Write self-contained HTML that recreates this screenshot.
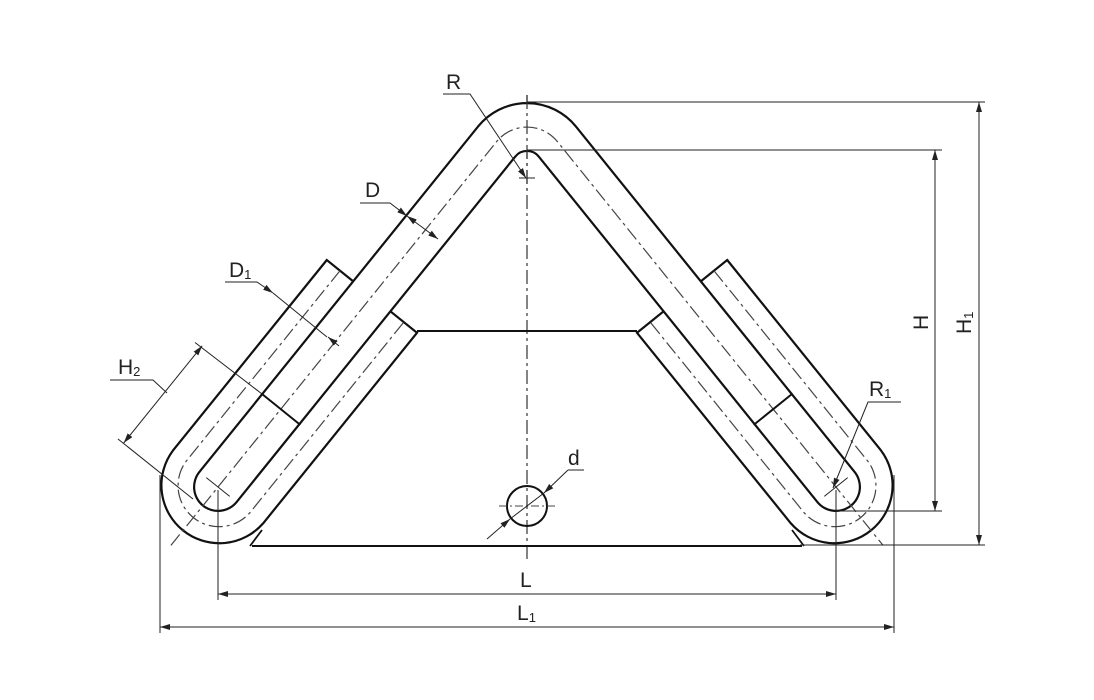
<!DOCTYPE html>
<html><head><meta charset="utf-8"><style>
html,body{margin:0;padding:0;background:#fff;}
svg{display:block;}
text{font-family:"Liberation Sans",sans-serif;fill:#222;}
</style></head><body>
<svg width="1094" height="700" viewBox="0 0 1094 700" xmlns="http://www.w3.org/2000/svg">
<defs>
<marker id="ar" viewBox="0 0 10 6" refX="10" refY="3" markerWidth="10" markerHeight="6" markerUnits="userSpaceOnUse" orient="auto-start-reverse">
<path d="M0,0 L10,3 L0,6 Z" fill="#222"/></marker>
</defs>

<!-- vertical axis -->
<line x1="527" y1="95" x2="527" y2="562" stroke="#333" stroke-width="1.2" stroke-dasharray="14 4 3 4"/>

<!-- left thimble group & mirrored -->
<g id="side">
  <path d="M326.8,260 L172.9,450.6 A58,58 0 0 0 263.1,523.4 L417,332.8 Z" fill="#fff" stroke="#111" stroke-width="2.2"/>
  <path d="M340,270.7 L186.1,461.3 A41,41 0 0 0 249.9,512.7 L403.8,322.1" fill="none" stroke="#444" stroke-width="1.2" stroke-dasharray="14 4 3 4"/>
  <line x1="250" y1="546" x2="262" y2="530" stroke="#111" stroke-width="1.8"/>
</g>
<g transform="translate(1054,0) scale(-1,1)">
  <path d="M326.8,260 L172.9,450.6 A58,58 0 0 0 263.1,523.4 L417,332.8 Z" fill="#fff" stroke="#111" stroke-width="2.2"/>
  <path d="M340,270.7 L186.1,461.3 A41,41 0 0 0 249.9,512.7 L403.8,322.1" fill="none" stroke="#444" stroke-width="1.2" stroke-dasharray="14 4 3 4"/>
  <line x1="250" y1="546" x2="262" y2="530" stroke="#111" stroke-width="1.8"/>
</g>

<!-- plate -->
<line x1="417" y1="331" x2="637" y2="331" stroke="#111" stroke-width="2"/>
<line x1="252" y1="546" x2="802" y2="546" stroke="#111" stroke-width="2"/>

<!-- main tube -->
<path d="M218,487 L496.7,141.5 A39,39 0 0 1 557.3,141.5 L836,487" fill="none" stroke="#111" stroke-width="50" stroke-linecap="round" stroke-linejoin="round"/>
<path d="M218,487 L496.7,141.5 A39,39 0 0 1 557.3,141.5 L836,487" fill="none" stroke="#fff" stroke-width="45.6" stroke-linecap="round" stroke-linejoin="round"/>
<path d="M170.9,545.4 L496.7,141.5 A39,39 0 0 1 557.3,141.5 L883.1,545.4" fill="none" stroke="#444" stroke-width="1.2" stroke-dasharray="14 4 3 4"/>
<!-- redraw axis over tube -->
<line x1="527" y1="95" x2="527" y2="190" stroke="#333" stroke-width="1.2" stroke-dasharray="14 4 3 4"/>

<!-- tube cross lines -->
<line x1="261.4" y1="393.5" x2="300.3" y2="424.9" stroke="#111" stroke-width="2"/>
<line x1="792.6" y1="393.5" x2="753.7" y2="424.9" stroke="#111" stroke-width="2"/>

<!-- crosshairs at ends -->
<line x1="206.3" y1="477.6" x2="229.7" y2="496.4" stroke="#222" stroke-width="1"/>
<line x1="847.7" y1="477.6" x2="824.3" y2="496.4" stroke="#222" stroke-width="1"/>
<line x1="519" y1="178" x2="535" y2="178" stroke="#222" stroke-width="1"/>

<!-- hole -->
<circle cx="527" cy="506" r="20" fill="none" stroke="#111" stroke-width="2"/>
<line x1="499" y1="506" x2="555" y2="506" stroke="#444" stroke-width="1" stroke-dasharray="8 3 2 3"/>
<line x1="487" y1="539" x2="510" y2="519" stroke="#222" stroke-width="1" marker-end="url(#ar)"/>
<line x1="568" y1="470" x2="544" y2="493" stroke="#222" stroke-width="1" marker-end="url(#ar)"/>
<line x1="510" y1="519" x2="544" y2="493" stroke="#222" stroke-width="1"/>
<line x1="568" y1="470" x2="584" y2="470" stroke="#222" stroke-width="1"/>
<text x="568" y="465" font-size="21">d</text>

<!-- R leader -->
<polyline points="443,94 470,94 526,178" fill="none" stroke="#222" stroke-width="1" marker-end="url(#ar)"/>
<text x="446" y="89" font-size="21">R</text>

<!-- D -->
<polyline points="360,203 390,203 407,216" fill="none" stroke="#222" stroke-width="1" marker-end="url(#ar)"/>
<line x1="407" y1="216" x2="438" y2="239" stroke="#222" stroke-width="1" marker-start="url(#ar)" marker-end="url(#ar)"/>
<text x="365" y="197" font-size="21">D</text>

<!-- D1 -->
<polyline points="225,282 257,282 273,293" fill="none" stroke="#222" stroke-width="1" marker-end="url(#ar)"/>
<line x1="273" y1="293" x2="327" y2="337" stroke="#222" stroke-width="1"/>
<line x1="339" y1="346" x2="328" y2="337" stroke="#222" stroke-width="1" marker-end="url(#ar)"/>
<text x="229" y="277" font-size="21">D<tspan font-size="13" dy="2">1</tspan></text>

<!-- H2 -->
<line x1="261.4" y1="393.5" x2="195" y2="342.5" stroke="#222" stroke-width="1"/>
<line x1="193" y1="499" x2="118" y2="439" stroke="#222" stroke-width="1"/>
<line x1="123.7" y1="443" x2="202.2" y2="345.8" stroke="#222" stroke-width="1" marker-start="url(#ar)" marker-end="url(#ar)"/>
<polyline points="110,380 153,380 167,393" fill="none" stroke="#222" stroke-width="1"/>
<text x="118" y="374" font-size="21">H<tspan font-size="13" dy="2">2</tspan></text>

<!-- R1 -->
<polyline points="901,402 868,402 833,488" fill="none" stroke="#222" stroke-width="1" marker-end="url(#ar)"/>
<text x="869" y="396" font-size="21">R<tspan font-size="13" dy="2">1</tspan></text>

<!-- H, H1 -->
<line x1="527" y1="102" x2="985" y2="102" stroke="#222" stroke-width="1"/>
<line x1="527" y1="150" x2="942" y2="150" stroke="#222" stroke-width="1"/>
<line x1="838" y1="511" x2="942" y2="511" stroke="#222" stroke-width="1"/>
<line x1="800" y1="545" x2="985" y2="545" stroke="#222" stroke-width="1"/>
<line x1="935" y1="150" x2="935" y2="511" stroke="#222" stroke-width="1" marker-start="url(#ar)" marker-end="url(#ar)"/>
<line x1="979" y1="102" x2="979" y2="545" stroke="#222" stroke-width="1" marker-start="url(#ar)" marker-end="url(#ar)"/>
<text transform="translate(928,330) rotate(-90)" font-size="21">H</text>
<text transform="translate(971,334) rotate(-90)" font-size="21">H<tspan font-size="13" dy="2">1</tspan></text>

<!-- L, L1 -->
<line x1="218" y1="490" x2="218" y2="600" stroke="#222" stroke-width="1"/>
<line x1="836" y1="490" x2="836" y2="600" stroke="#222" stroke-width="1"/>
<line x1="160" y1="475" x2="160" y2="633" stroke="#222" stroke-width="1"/>
<line x1="894" y1="475" x2="894" y2="633" stroke="#222" stroke-width="1"/>
<line x1="218" y1="594" x2="836" y2="594" stroke="#222" stroke-width="1" marker-start="url(#ar)" marker-end="url(#ar)"/>
<line x1="160" y1="627" x2="894" y2="627" stroke="#222" stroke-width="1" marker-start="url(#ar)" marker-end="url(#ar)"/>
<text x="520" y="587" font-size="21">L</text>
<text x="517" y="620" font-size="21">L<tspan font-size="13" dy="2">1</tspan></text>
</svg>
</body></html>
